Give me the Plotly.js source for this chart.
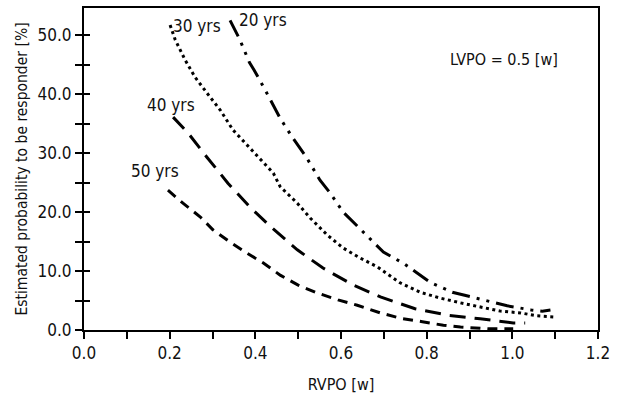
<!DOCTYPE html>
<html>
<head>
<meta charset="utf-8">
<script src="https://cdn.plot.ly/plotly-3.0.1.min.js"></script>
<style>html,body{margin:0;padding:0;background:#fff;}#chart{width:617px;height:394px;}</style>
</head>
<body>
<div id="chart"></div>
<script>
// RVPO [w] vs estimated probability [%], LVPO = 0.5
const x20 = [0.341,0.364,0.386,0.397,0.423,0.446,0.458,0.488,0.519,0.551,0.575,0.605,0.64,0.68,0.699,0.746,0.79,0.808,0.86,0.914,0.937,0.988,1.044,1.07,1.089];
const y20 = [52.5,49.2,45.4,44.1,40.7,37.5,35.9,32.5,29.3,25.4,23.2,20.0,17.5,14.6,13.2,11.3,9.0,8.1,6.4,5.4,5.1,4.1,3.4,3.2,3.4];
const x30 = [0.201,0.213,0.236,0.259,0.287,0.318,0.348,0.381,0.411,0.442,0.458,0.498,0.528,0.568,0.605,0.645,0.685,0.738,0.785,0.832,0.879,0.925,0.972,1.019,1.058,1.1];
const y30 = [51.7,49.2,45.8,42.9,40.2,37.3,33.9,31.4,29.1,26.6,24.3,21.5,19.0,16.1,13.9,12.2,10.7,8.0,6.4,5.4,4.6,3.9,3.2,2.9,2.4,2.2];
const x40 = [0.208,0.243,0.287,0.336,0.388,0.439,0.498,0.558,0.629,0.692,0.773,0.85,0.925,1.002,1.03];
const y40 = [36.1,33.4,29.3,24.9,20.8,17.3,13.6,10.5,7.6,5.6,3.6,2.5,1.9,1.2,1.2];
const x50 = [0.196,0.231,0.271,0.301,0.341,0.381,0.418,0.458,0.5,0.544,0.593,0.638,0.692,0.738,0.79,0.839,0.879,0.942,1.002];
const y50 = [23.7,21.5,19.2,17.0,14.9,13.0,11.4,9.3,7.6,6.3,5.1,4.2,2.9,2.0,1.4,0.8,0.5,0.2,0.2];

const seriesNames = ['20 yrs','30 yrs','40 yrs','50 yrs'];
const labelX = [0.418,0.264,0.203,0.166];
const labelY = [52.5,51.5,38.1,26.9];
const noteText = 'LVPO = 0.5 [w]';
const noteX = 0.981, noteY = 45.8;

const xTickVals = [0,0.2,0.4,0.6,0.8,1.0,1.2];
const yTickVals = [0,10,20,30,40,50];

const FONT = '"Liberation Sans Narrow", "Arial Narrow", "DejaVu Sans Condensed", sans-serif';
const INK = '#111';

function tr(x, y, dash, name) {
  return {x: x, y: y, type: 'scatter', mode: 'lines', name: name,
    line: {color: '#000', width: 3, dash: dash}, hoverinfo: 'skip'};
}

const data = [
  tr(x20, y20, '18px,7px,3px,7px,3px,7px', seriesNames[0]),
  tr(x30, y30, '3px,3.5px', seriesNames[1]),
  tr(x40, y40, '16px,9px', seriesNames[2]),
  tr(x50, y50, '10px,7px', seriesNames[3]),
  {x: [0], y: [0], yaxis: 'y2', type: 'scatter', mode: 'markers', marker: {opacity: 0}, hoverinfo: 'skip', showlegend: false}
];

const annotations = seriesNames.map((t, i) => ({
  x: labelX[i], y: labelY[i], text: t, showarrow: false,
  xanchor: 'center', yanchor: 'middle', font: {family: FONT, size: 17, color: INK}
}));
annotations.push({x: noteX, y: noteY, text: noteText, showarrow: false,
  xanchor: 'center', yanchor: 'middle', font: {family: FONT, size: 16, color: INK}});

const yRange = [0, 54.6];

const layout = {
  width: 617, height: 394,
  margin: {l: 84, r: 19, t: 8, b: 64},
  paper_bgcolor: '#fff', plot_bgcolor: '#fff',
  showlegend: false,
  font: {family: FONT, color: INK, size: 17},
  xaxis: {
    range: [0, 1.2], tickvals: xTickVals, ticktext: xTickVals.map(v => v.toFixed(1)),
    ticks: 'outside', ticklen: 7, tickwidth: 2, tickcolor: '#000',
    minor: {dtick: 0.1, tick0: 0, ticks: 'outside', ticklen: 7, tickwidth: 2, tickcolor: '#000'},
    showline: true, linewidth: 2, linecolor: '#000', mirror: true,
    showgrid: false, zeroline: false,
    tickfont: {family: FONT, size: 17, color: INK},
    title: {text: 'RVPO [w]', font: {family: FONT, size: 16, color: INK}, standoff: 17}
  },
  yaxis: {
    range: yRange, tickvals: yTickVals, ticktext: yTickVals.map(v => v.toFixed(1)),
    ticks: 'outside', ticklen: 7, tickwidth: 2, tickcolor: '#000',
    minor: {dtick: 5, tick0: 0, ticks: 'outside', ticklen: 7, tickwidth: 2, tickcolor: '#000'},
    showline: true, linewidth: 2, linecolor: '#000', mirror: true,
    showgrid: false, zeroline: false,
    tickfont: {family: FONT, size: 17, color: INK},
    title: {text: 'Estimated probability to be responder [%]', font: {family: FONT, size: 15.5, color: INK}, standoff: 6}
  },
  yaxis2: {
    range: yRange, overlaying: 'y', side: 'left', dtick: 5, tick0: 0,
    ticks: 'inside', ticklen: 6, tickwidth: 2, tickcolor: '#000',
    showticklabels: false, showgrid: false, zeroline: false, showline: false
  },
  annotations: annotations
};

Plotly.newPlot('chart', data, layout, {displayModeBar: false, staticPlot: true});
</script>
</body>
</html>
